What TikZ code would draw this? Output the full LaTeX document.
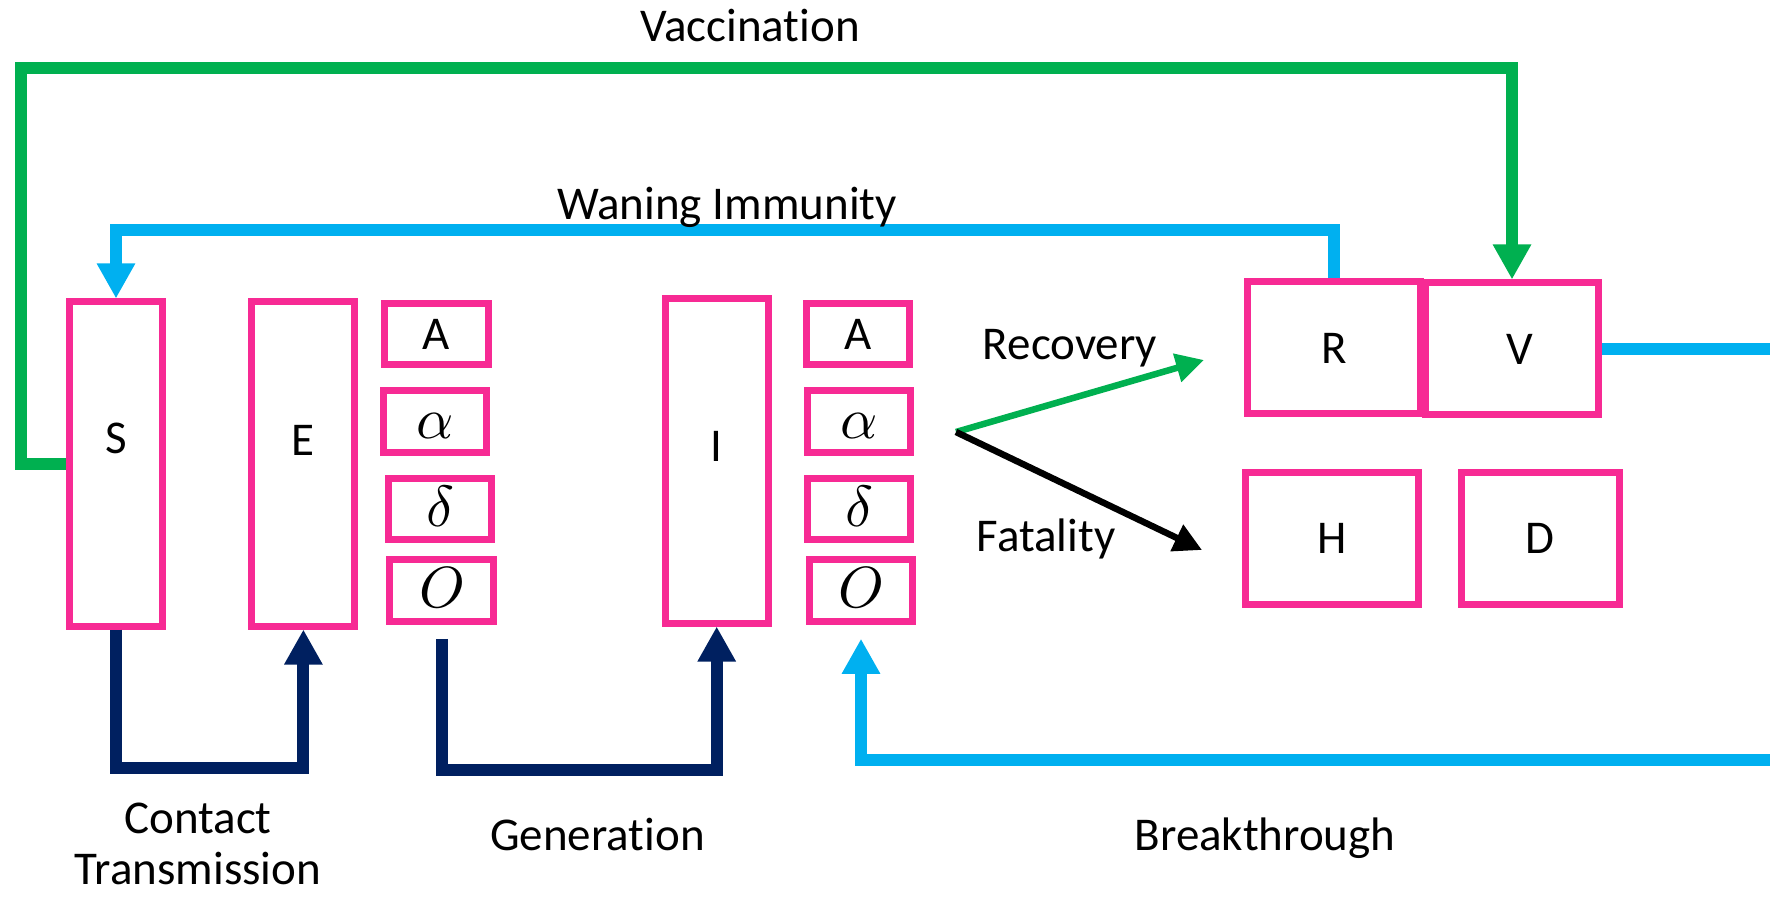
\documentclass[tikz,border=0pt]{standalone}
\usepackage{fontspec}
\setmainfont{Carlito}[Ligatures=NoCommon]
\usepackage{unicode-math}
\setmathfont{Latin Modern Math}
\usetikzlibrary{arrows.meta, positioning}

\definecolor{boxpink}{HTML}{F72A94}
\definecolor{vgreen}{HTML}{00B050}
\definecolor{wblue}{HTML}{00B0F0}
\definecolor{navy}{HTML}{002060}

\begin{document}
\begin{tikzpicture}[x=0.5pt, y=-0.5pt,
					font=\fontsize{23.5}{25.5}\selectfont,
					box/.style={draw=boxpink, line width=3.5pt, inner sep=0pt},
					tall/.style={box, minimum width=51.5pt, minimum height=162pt, text height=15pt},
					small/.style={box, minimum width=51.75pt, minimum height=30.75pt, text height=16pt, text depth=0pt},
					greek/.style={small, font=\fontsize{29}{31}\selectfont, text height=17pt},
					big/.style={box, minimum width=86.5pt, minimum height=66pt},
					flow/.style={line width=6pt, -{Triangle[width=18pt,length=17.5pt]}},
					thin/.style={line width=3.25pt, -{Triangle[width=14pt,length=14pt]}},
					lbl/.style={anchor=base, inner sep=0pt}]

	\clip (0,0) rectangle (1770,897);

	\node[tall, minimum width=46.7pt, text depth=26pt] (S) at (116,464) {S};
	\node[tall, text depth=23pt] (E) at (303.4,464) {E};
	\node[small] (EA) at (436.5,334) {A};
	\node[greek] (Ealpha) at (435,421.5) {$\alpha$};
	\node[greek] (Edelta) at (440,509) {$\delta$};
	\node[greek] (Eomicron) at (441.5,590.5) {$O$};
	\node[tall, text depth=15pt] (I) at (716.7,461) {I};
	\node[small] (IA) at (858,334) {A};
	\node[greek] (Ialpha) at (859,421.5) {$\alpha$};
	\node[greek] (Idelta) at (859,509) {$\delta$};
	\node[greek] (Iomicron) at (861,590.5) {$O$};
	\node[big] (R) at (1334,348) {R};
	\node[big] (V) at (1512,349) {\hspace{8pt}V};
	\node[big] (H) at (1332,538.5) {H};
	\node[big, minimum width=79pt] (D) at (1540,538.5) {D};

	\coordinate (split) at (956,432);
	\coordinate (toR) at (1204,360);
	\coordinate (toH) at (1202,550);
	\coordinate (offedge) at (1800,760);

	\draw[flow, vgreen] (S.west) -| (21,68) -| (V.north);
	\draw[flow, wblue] (R.north) -- ++(0,-48) -| (S.north);
	\draw[flow, navy] (S.south) -- ++(0,138) -| (E.south);
	\draw[flow, navy, shorten <=7pt] (Eomicron.south) -- ++(0,145) -| (I.south);
	\draw[flow, wblue, shorten >=7pt] (V.east) -| (offedge) -| (Iomicron.south);
	\draw[thin, vgreen] (split) -- (toR);
	\draw[thin, black] (split) -- (toH);

	\node[lbl] (vacc) at (750,42) {Vaccination};
	\node[lbl] (waning) at (727,220) {Waning Immunity};
	\node[lbl] (recov) at (1070,360) {Recovery};
	\node[lbl] (fatal) at (1046,551) {Fatality};
	\node[lbl, align=center] (contact) at (198,884) {Contact\\Transmission};
	\node[lbl] (gener) at (597.5,850) {Generation};
	\node[lbl] (breakth) at (1265,850) {Breakthrough};
\end{tikzpicture}
\end{document}
